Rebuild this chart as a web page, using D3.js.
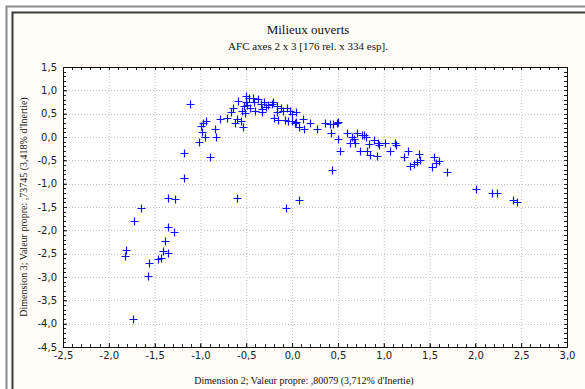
<!DOCTYPE html>
<html>
<head>
<meta charset="utf-8">
<script src="https://cdn.jsdelivr.net/npm/d3@7"></script>
<style>
  html, body { margin: 0; padding: 0; background: #fff; }
  svg { display: block; }
  .tick text { font-family: "DejaVu Sans", sans-serif; font-size: 10px; fill: #222; }
  .ttl { font-family: "Liberation Serif", serif; fill: #111; }
</style>
</head>
<body>
<svg id="chart" width="585" height="389"></svg>
<script>
// Dimension 2 (x) and Dimension 3 (y) coordinates of the relevés
const dim2 = [
  -1.81, -1.82, -1.74, -1.56, -1.57, -1.35, -1.29, -1.39, -1.41, -1.35, -1.43, -1.46, -1.73, -1.65,
  -1.35, -1.28, -1.18, -1.18, -1.11, -1.02, -0.90, -0.95, -0.98, -0.99, -0.97, -0.94, -0.84, -0.83,
  -0.79, -0.71, -0.67, -0.65, -0.62, -0.60, -0.56, -0.54, -0.60, -0.59, -0.55, -0.51, -0.52, -0.50,
  -0.47, -0.50, -0.46, -0.42, -0.40, -0.37, -0.34, -0.33, -0.31, -0.26, -0.22, -0.17, -0.17, -0.20,
  -0.15, -0.43, -0.49, -0.29, -0.21, -0.12, -0.10, -0.08, -0.02, 0.00, -0.04, -0.33, -0.06, 0.00,
  0.04, 0.03, 0.07, 0.12, 0.13, 0.20, 0.27, 0.36, 0.41, 0.45, 0.49, 0.42, 0.50, 0.52, 0.44, 0.08,
  -0.07, 0.60, 0.63, 0.69, 0.68, 0.71, 0.76, 0.81, 0.84, 0.74, 0.82, 0.85, 0.89, 0.94, 0.93, 0.95,
  1.01, 1.07, 1.12, 1.13, 1.22, 1.26, 1.29, 1.33, 1.36, 1.38, 1.40, 1.53, 1.55, 1.60, 1.57, 1.69,
  2.01, 2.18, 2.24, 2.41, 2.45, 0.04, 0.50, 0.65, 0.78
];
const dim3 = [
  -2.42, -2.54, -3.89, -2.71, -2.97, -1.93, -2.04, -2.22, -2.45, -2.49, -2.59, -2.61, -1.79, -1.52,
  -1.30, -1.33, -0.87, -0.34, 0.71, -0.11, -0.42, 0.01, 0.10, 0.24, 0.29, 0.34, 0.17, 0.01,
  0.39, 0.41, 0.54, 0.62, 0.31, 0.39, 0.34, 0.21, -1.30, 0.78, 0.56, 0.51, 0.66, 0.88,
  0.83, 0.74, 0.62, 0.74, 0.56, 0.81, 0.71, 0.53, 0.74, 0.69, 0.71, 0.66, 0.54, 0.41,
  0.36, 0.84, 0.68, 0.64, 0.74, 0.62, 0.56, 0.37, 0.55, 0.34, 0.35, 0.60, 0.62, 0.49,
  0.54, 0.29, 0.22, 0.38, 0.17, 0.29, 0.17, 0.31, 0.27, 0.27, 0.29, 0.09, -0.04, -0.29, -0.71, -1.35,
  -1.52, 0.08, -0.12, -0.12, -0.04, 0.08, 0.04, 0.01, -0.16, -0.31, -0.29, -0.39, -0.06, -0.12, -0.41, -0.17,
  -0.12, -0.29, -0.12, -0.17, -0.42, -0.30, -0.62, -0.58, -0.53, -0.36, -0.49, -0.65, -0.42, -0.51, -0.55, -0.74,
  -1.12, -1.19, -1.21, -1.36, -1.39, 0.33, 0.33, 0.00, 0.04
];

const xTicks = [-2.5, -2.0, -1.5, -1.0, -0.5, 0.0, 0.5, 1.0, 1.5, 2.0, 2.5, 3.0];
const yTicks = [1.5, 1.0, 0.5, 0.0, -0.5, -1.0, -1.5, -2.0, -2.5, -3.0, -3.5, -4.0, -4.5];

const title = 'Milieux ouverts';
const subtitle = 'AFC axes 2 x 3 [176 rel. x 334 esp].';
const xTitle = "Dimension 2; Valeur propre: ,80079 (3,712% d'Inertie)";
const yTitle = "Dimension 3; Valeur propre: ,73745 (3,418% d'Inertie)";

const svg = d3.select('#chart');
const fmt = v => d3.format('.1f')(v).replace('.', ',').replace('−', '-');

// window frame
svg.append('rect').attr('x', 6.5).attr('y', 6.5).attr('width', 600).attr('height', 400)
  .attr('fill', '#fff').attr('stroke', '#8a8a8a').attr('stroke-width', 2);
svg.append('rect').attr('x', 12.5).attr('y', 12.5).attr('width', 600).attr('height', 400)
  .attr('fill', '#fffcf7').attr('stroke', '#3a3a3a').attr('stroke-width', 2);

const plot = { left: 63, top: 67, right: 567, bottom: 347 };

const x = d3.scaleLinear().domain([-2.5, 3.0]).range([plot.left, plot.right]);
const y = d3.scaleLinear().domain([-4.5, 1.5]).range([plot.bottom, plot.top]);

svg.append('rect')
  .attr('x', plot.left).attr('y', plot.top)
  .attr('width', plot.right - plot.left).attr('height', plot.bottom - plot.top)
  .attr('fill', '#fff');

// dotted grid
const grid = svg.append('g').attr('stroke', '#c4c4c4').attr('stroke-dasharray', '1,2');
grid.selectAll('.gx').data(xTicks.slice(1, -1)).enter().append('line')
  .attr('x1', d => x(d) + 0.5).attr('x2', d => x(d) + 0.5)
  .attr('y1', plot.top).attr('y2', plot.bottom);
grid.selectAll('.gy').data(yTicks.slice(1, -1)).enter().append('line')
  .attr('y1', d => Math.round(y(d)) + 0.5).attr('y2', d => Math.round(y(d)) + 0.5)
  .attr('x1', plot.left).attr('x2', plot.right);

// minor ticks, pointing inward on the four sides
const minorX = d3.range(-2.5, 3.0001, 0.1);
const minorY = d3.range(-4.5, 1.5001, 0.1);
const mt = svg.append('g').attr('stroke', '#222');
mt.selectAll('.mb').data(minorX).enter().append('line')
  .attr('x1', d => Math.round(x(d)) + 0.5).attr('x2', d => Math.round(x(d)) + 0.5)
  .attr('y1', plot.bottom).attr('y2', plot.bottom - 3);
mt.selectAll('.mt').data(minorX).enter().append('line')
  .attr('x1', d => Math.round(x(d)) + 0.5).attr('x2', d => Math.round(x(d)) + 0.5)
  .attr('y1', plot.top).attr('y2', plot.top + 3);
mt.selectAll('.ml').data(minorY).enter().append('line')
  .attr('y1', d => Math.round(y(d)) + 0.5).attr('y2', d => Math.round(y(d)) + 0.5)
  .attr('x1', plot.left).attr('x2', plot.left + 3);
mt.selectAll('.mr').data(minorY).enter().append('line')
  .attr('y1', d => Math.round(y(d)) + 0.5).attr('y2', d => Math.round(y(d)) + 0.5)
  .attr('x1', plot.right).attr('x2', plot.right - 3);

// axes with labels
const xAxis = svg.append('g').attr('transform', `translate(0,${plot.bottom})`)
  .call(d3.axisBottom(x).tickValues(xTicks).tickFormat(fmt).tickSize(-4).tickPadding(5));
const yAxis = svg.append('g').attr('transform', `translate(${plot.left},0)`)
  .call(d3.axisLeft(y).tickValues(yTicks).tickFormat(fmt).tickSize(-4).tickPadding(6));
[xAxis, yAxis].forEach(a => {
  a.select('.domain').remove();
  a.selectAll('.tick line').attr('stroke', '#222');
});

svg.append('rect')
  .attr('x', plot.left + 0.5).attr('y', plot.top + 0.5)
  .attr('width', plot.right - plot.left).attr('height', plot.bottom - plot.top)
  .attr('fill', 'none').attr('stroke', '#111');

// points as "+" markers
const pts = dim2.map((d, i) => [d, dim3[i]]);
svg.append('g').selectAll('path').data(pts).enter().append('path')
  .attr('d', d => {
    const cx = Math.round(x(d[0])) + 0.5, cy = Math.round(y(d[1])) + 0.5;
    return `M${cx - 4},${cy}H${cx + 4}M${cx},${cy - 4}V${cy + 4}`;
  })
  .attr('stroke', '#1010ff').attr('stroke-width', 1.2).attr('fill', 'none');

// titles
svg.append('text').attr('class', 'ttl').attr('x', 308).attr('y', 34)
  .attr('text-anchor', 'middle').attr('font-size', 13).text(title);
svg.append('text').attr('class', 'ttl').attr('x', 308).attr('y', 50)
  .attr('text-anchor', 'middle').attr('font-size', 11).text(subtitle);
svg.append('text').attr('class', 'ttl').attr('x', 304).attr('y', 384)
  .attr('text-anchor', 'middle').attr('font-size', 10).text(xTitle);
svg.append('text').attr('class', 'ttl')
  .attr('transform', 'translate(27,207) rotate(-90)')
  .attr('text-anchor', 'middle').attr('font-size', 10).text(yTitle);
</script>
</body>
</html>
